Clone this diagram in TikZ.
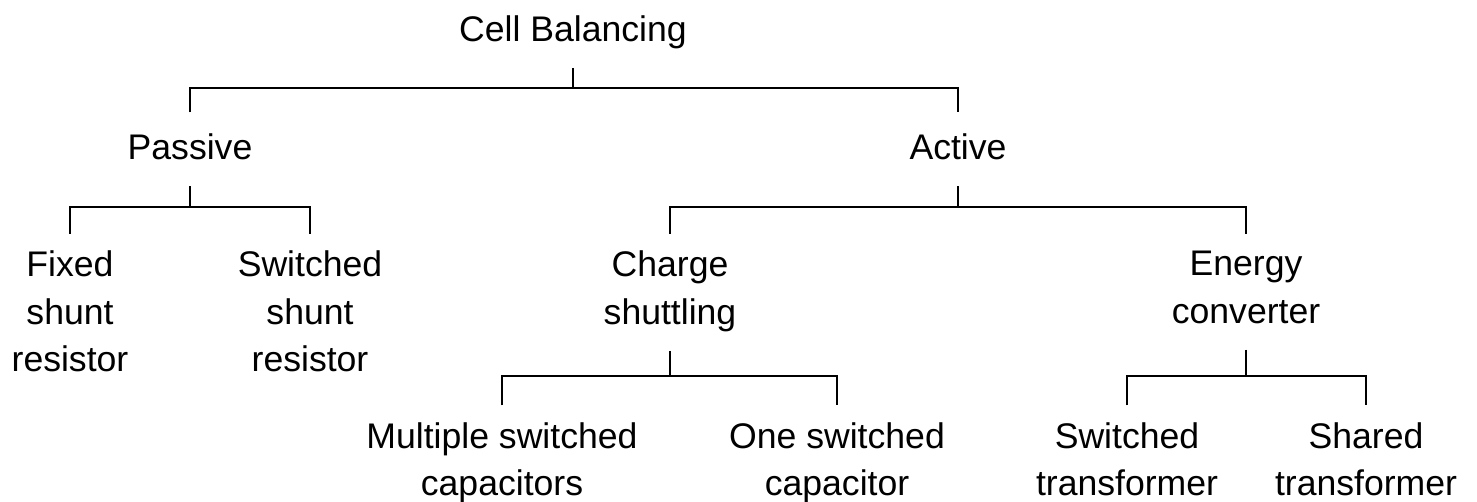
\documentclass[tikz,border=0pt]{standalone}
\usepackage{fontspec}
\setmainfont{Liberation Sans}
\begin{document}
\begin{tikzpicture}[x=0.5pt,y=-0.5pt,
  cat/.style={anchor=north, align=center, inner sep=0pt,
    font=\fontsize{17.8}{23.75}\selectfont,
    execute at begin node=\strut, execute at end node=\strut},
  stem/.style={line width=1pt, shorten <=5.9pt},
  bracket/.style={line width=1pt, shorten <=6.9pt, shorten >=6.9pt},
  bracketm/.style={line width=1pt, shorten <=8.4pt, shorten >=8.4pt}]
\useasboundingbox (0,0) rectangle (1477,502);
% nodes
\node[cat] (root) at (573,7.75) {Cell Balancing};
\node[cat] (passive) at (190,126.25) {Passive};
\node[cat] (active) at (958,126.25) {Active};
\node[cat] (fixed) at (70,250.75) {Fixed\\shunt\\resistor};
\node[cat] (swres) at (310,250.75) {Switched\\shunt\\resistor};
\node[cat] (charge) at (670,250.75) {Charge\\shuttling};
\node[cat] (energy) at (1246,250.75) {Energy\\converter};
\node[cat] (multi) at (502,422.25) {Multiple switched\\capacitors};
\node[cat] (one) at (837,422.25) {One switched\\capacitor};
\node[cat] (swtr) at (1127,422.25) {Switched\\transformer};
\node[cat] (shared) at (1366,422.25) {Shared\\transformer};
% bus coordinates
\coordinate (b1) at (573,88);
\coordinate (b2) at (190,207.5);
\coordinate (b3) at (958,207.5);
\coordinate (b4) at (670,376);
\coordinate (b5) at (1246,376);
% connectors
\draw[stem] (root.south) -- (b1);
\draw[bracket] (passive.north) -- (passive.north |- b1) -- (active.north |- b1) -- (active.north);
\draw[stem] (passive.south) -- (b2);
\draw[bracketm] (fixed.north) -- (fixed.north |- b2) -- (swres.north |- b2) -- (swres.north);
\draw[stem] (active.south) -- (b3);
\draw[bracketm] (charge.north) -- (charge.north |- b3) -- (energy.north |- b3) -- (energy.north);
\draw[stem] (charge.south) -- (b4);
\draw[bracketm] (multi.north) -- (multi.north |- b4) -- (one.north |- b4) -- (one.north);
\draw[stem] (energy.south) -- (b5);
\draw[bracketm] (swtr.north) -- (swtr.north |- b5) -- (shared.north |- b5) -- (shared.north);
\end{tikzpicture}
\end{document}
